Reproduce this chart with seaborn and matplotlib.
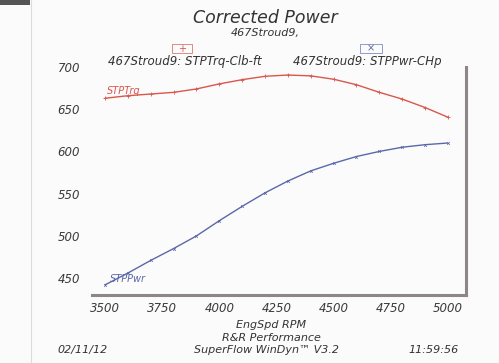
import matplotlib
matplotlib.use("Agg")
import matplotlib.pyplot as plt
import seaborn as sns
import pandas as pd
from matplotlib.patches import Rectangle
from matplotlib.lines import Line2D

rpm = [3500, 3600, 3700, 3800, 3900, 4000, 4100, 4200,
       4300, 4400, 4500, 4600, 4700, 4800, 4900, 5000]
torque = [663, 666, 668, 670, 674, 680, 685, 689,
          690.5, 689.5, 685.5, 679, 670, 662, 652, 640.5]
power = [442, 456, 471, 485, 500, 518, 535, 551,
         565, 577, 586, 594, 600, 605, 608, 610]
xticks = [3500, 3750, 4000, 4250, 4500, 4750, 5000]
yticks = [450, 500, 550, 600, 650, 700]

df = pd.DataFrame({"rpm": rpm, "torque": torque, "power": power})

sns.set_theme(style="white")
plt.rcParams['font.family'] = ['DejaVu Sans']

W, H = 499, 363
fig = plt.figure(figsize=(W / 100, H / 100), dpi=100)
fig.patch.set_facecolor("#fbfbfb")

def fx(px):
    return px / W

def fy(py):
    return 1 - py / H

ax = fig.add_axes([fx(92), fy(295), fx(466) - fx(92), fy(67) - fy(295)])
ax.set_facecolor("#fbfbfb")

red = "#d9574c"
blue = "#5a68a8"
sns.lineplot(data=df, x="rpm", y="torque", ax=ax, color=red, lw=1.0,
             marker="+", markersize=3, markeredgewidth=0.6, markeredgecolor=red)
sns.lineplot(data=df, x="rpm", y="power", ax=ax, color=blue, lw=1.0,
             marker="x", markersize=2, markeredgewidth=0.5, markeredgecolor=blue)

ax.set_xlim(3443, 5079)
ax.set_ylim(430, 700)
ax.set_xticks(xticks)
ax.set_yticks(yticks)
ax.set_xticklabels([str(v) for v in xticks], style="italic", fontsize=8.5, color="#3a3a3a")
ax.set_yticklabels([str(v) for v in yticks], style="italic", fontsize=8.5, color="#3a3a3a")
ax.tick_params(axis="x", length=0, pad=5)
ax.tick_params(axis="y", length=0, pad=8.5)
ax.set_xlabel("")
ax.set_ylabel("")
for s in ["left", "top"]:
    ax.spines[s].set_visible(False)
for s in ["right", "bottom"]:
    ax.spines[s].set_color("#8c8687")
    ax.spines[s].set_linewidth(2.2)

ax.text(3510, 666, "STPTrq", color=red, fontsize=7, style="italic", va="bottom", ha="left")
ax.text(3520, 443, "STPPwr", color=blue, fontsize=7, style="italic", va="bottom", ha="left")

tc = "#333333"
fig.text(fx(265), fy(18), "Corrected Power", ha="center", va="center",
         fontsize=12.5, style="italic", color=tc)
fig.text(fx(265), fy(33), "467Stroud9,", ha="center", va="center",
         fontsize=8, style="italic", color=tc)

# legend boxes
fig.add_artist(Rectangle((fx(172), fy(53)), fx(20), fy(44) - fy(53),
                         transform=fig.transFigure, fill=False, ec="#e08a84", lw=0.7))
fig.text(fx(182), fy(48.5), "+", ha="center", va="center", fontsize=7, color=red)
fig.add_artist(Rectangle((fx(360), fy(53)), fx(22), fy(44) - fy(53),
                         transform=fig.transFigure, fill=False, ec="#8f9ac8", lw=0.7))
fig.text(fx(371), fy(48.5), "\u00d7", ha="center", va="center", fontsize=7, color=blue)
fig.text(fx(185), fy(61), "467Stroud9: STPTrq-Clb-ft", ha="center", va="center",
         fontsize=8.5, style="italic", color=tc)
fig.text(fx(367), fy(61), "467Stroud9: STPPwr-CHp", ha="center", va="center",
         fontsize=8.5, style="italic", color=tc)

# footer
fig.text(fx(271), fy(325), "EngSpd RPM", ha="center", va="center",
         fontsize=8, style="italic", color=tc)
fig.text(fx(271), fy(338), "R&R Performance", ha="center", va="center",
         fontsize=8, style="italic", color=tc)
fig.text(fx(266), fy(350), "SuperFlow WinDyn\u2122 V3.2", ha="center", va="center",
         fontsize=8, style="italic", color=tc)
fig.text(fx(83), fy(350), "02/11/12", ha="center", va="center",
         fontsize=8, style="italic", color=tc)
fig.text(fx(434), fy(350), "11:59:56", ha="center", va="center",
         fontsize=8, style="italic", color=tc)

# scan paper edge
fig.add_artist(Line2D([fx(31), fx(31)], [0, 1], transform=fig.transFigure,
                      color="#dcdcdc", lw=0.8))
fig.add_artist(Rectangle((0, fy(5)), fx(30), fy(0) - fy(5),
                         transform=fig.transFigure, color="#555555", lw=0))

fig.savefig("out.png", dpi=100, facecolor=fig.get_facecolor())
